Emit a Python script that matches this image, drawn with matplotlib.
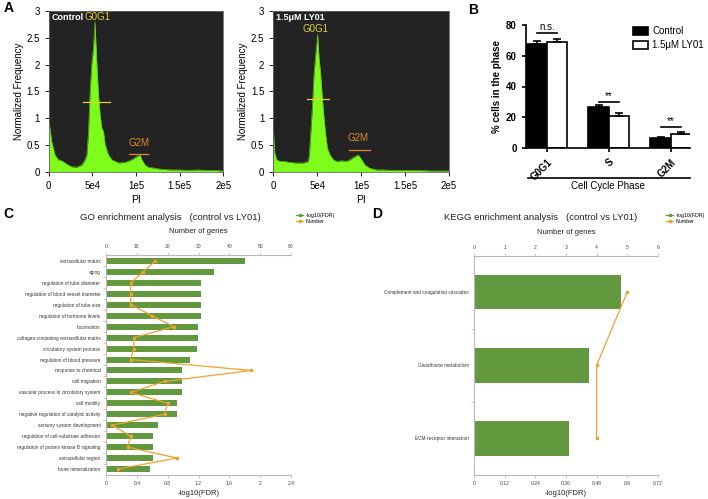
import numpy as np
from matplotlib import pyplot as plt
from matplotlib.lines import Line2D

plt.rcParams['font.family'] = ['Liberation Sans', 'DejaVu Sans']

W, H = 708, 499

# ---- panel A: cell cycle histograms
ctrl_pi = [0, 1500, 3400, 7200, 11000, 15000, 18700, 22500, 26400, 32000, 37800,
           41000, 43600, 45500, 47400, 49300, 51200, 52300, 53100, 54000, 55000,
           57000, 58900, 60800, 62700, 64600, 68400, 72300, 80000, 87600, 95200,
           101000, 104800, 106700, 110500, 114000, 122000, 130000, 140000, 150000,
           160000, 170000, 180000, 190000, 200000]
ctrl_freq = [0.97, 0.8, 0.56, 0.31, 0.22, 0.2, 0.16, 0.12, 0.09, 0.08, 0.12,
             0.2, 0.3, 0.7, 1.5, 2.0, 2.3, 2.6, 2.8, 2.4, 2.05,
             1.43, 1.06, 0.81, 0.75, 0.5, 0.31, 0.22, 0.16, 0.17, 0.22,
             0.28, 0.31, 0.22, 0.12, 0.08, 0.06, 0.04, 0.03, 0.03,
             0.02, 0.03, 0.02, 0.02, 0.01]
ly_pi = [0, 1500, 3800, 7600, 13000, 19000, 26000, 34200, 39900, 41000, 42500,
         44400, 46300, 48200, 49400, 50500, 52000, 53900, 55800, 57700, 59600,
         61500, 64500, 68300, 72100, 78000, 83500, 87300, 93000, 96800, 100600,
         104400, 110000, 117600, 125000, 135000, 150000, 165000, 180000, 200000]
ly_freq = [0.78, 0.35, 0.22, 0.19, 0.19, 0.17, 0.16, 0.16, 0.19, 0.31, 0.69,
           1.19, 1.81, 2.18, 2.37, 2.56, 2.12, 1.81, 1.37, 1.0, 0.69,
           0.44, 0.31, 0.22, 0.19, 0.2, 0.19, 0.22, 0.28, 0.31, 0.22,
           0.12, 0.06, 0.03, 0.03, 0.02, 0.02, 0.02, 0.01, 0.01]

# ---- panel B: % cells per phase
phases = ['G0G1', 'S', 'G2M']
ctrl_pct = [67.5, 26.4, 6.5]
ctrl_sd = [2.0, 1.5, 0.9]
ly_pct = [69.2, 21.0, 9.1]
ly_sd = [1.7, 2.0, 1.1]
sig_labels = ['n.s.', '**', '**']
sig_height = [74.6, 30.1, 13.9]

# ---- panel C: GO enrichment
go_terms = ['extracellular matrix', 'aging', 'regulation of tube diameter',
            'regulation of blood vessel diameter', 'regulation of tube size',
            'regulation of hormone levels', 'locomotion',
            'collagen-containing extracellular matrix', 'circulatory system process',
            'regulation of blood pressure', 'response to chemical', 'cell migration',
            'vascular process in circulatory system', 'cell motility',
            'negative regulation of catalytic activity', 'sensory system development',
            'regulation of cell-substrate adhesion',
            'regulation of protein kinase B signaling', 'extracellular region',
            'bone mineralization']
go_fdr = [1.80, 1.40, 1.23, 1.23, 1.23, 1.23, 1.19, 1.19, 1.18, 1.09,
          0.99, 0.98, 0.98, 0.925, 0.925, 0.68, 0.61, 0.61, 0.61, 0.57]
go_num = [16, 12, 8, 8, 8, 15, 22, 9, 9, 8, 47, 19, 8, 20, 19, 2, 8, 7, 23, 4]

# ---- panel D: KEGG enrichment
kegg_terms = ['Complement and coagulation cascades', 'Glutathione metabolism',
              'ECM-receptor interaction']
kegg_fdr = [0.576, 0.452, 0.372]
kegg_num = [5, 4, 4]

green = '#62993f'
orange = '#f0a22e'
grey = '#b8b8b8'


def rect(l, t, r, b):
    return [l / W, 1 - b / H, (r - l) / W, (b - t) / H]


fig = plt.figure(figsize=(W / 100, H / 100), dpi=100)


def histo(box, x, y, name, g1, g2):
    ax = fig.add_axes(box)
    ax.set_facecolor('#232323')
    ax.fill_between(x, 0, y, color='#7efc1a', lw=0)
    ax.plot(x, y, color='#5cc21a', lw=0.5)
    ax.set_xlim(0, 200000)
    ax.set_ylim(0, 3)
    ax.set_xticks([0, 50000, 100000, 150000, 200000])
    ax.set_xticklabels(['0', '5e4', '1e5', '1.5e5', '2e5'])
    ax.set_yticks([0, 0.5, 1, 1.5, 2, 2.5, 3])
    ax.set_yticklabels(['0', '0.5', '1', '1.5', '2', '2.5', '3'])
    ax.tick_params(labelsize=7, length=3, width=0.6)
    for s in ax.spines.values():
        s.set_color('#666666')
        s.set_linewidth(0.6)
    ax.set_xlabel('PI', fontsize=7.5, labelpad=3)
    ax.set_ylabel('Normalized Frequency', fontsize=7, labelpad=2)
    ax.text(0.015, 0.985, name, transform=ax.transAxes, color='white',
            fontsize=6.5, fontweight='bold', va='top', ha='left')
    # gate markers
    ax.plot([g1[1], g1[2]], [g1[3], g1[3]], color='#e2d13a', lw=0.9)
    ax.text(g1[0], g1[4], 'G0G1', color='#e2d13a', fontsize=7, ha='center', va='center')
    ax.plot([g2[1], g2[2]], [g2[3], g2[3]], color='#e48a2c', lw=0.9)
    ax.text(g2[0], g2[4], 'G2M', color='#e48a2c', fontsize=7, ha='center', va='center')
    return ax


histo(rect(48.7, 11, 223.3, 171.5), ctrl_pi, ctrl_freq, 'Control',
      (56000, 39400, 70300, 1.3, 2.88), (103000, 92200, 113600, 0.33, 0.53))
histo(rect(273.3, 11, 449, 171.5), ly_pi, ly_freq, '1.5\u03bcM LY01',
      (48500, 38000, 63700, 1.35, 2.66), (96800, 86500, 110000, 0.41, 0.62))

# ---- panel B
axb = fig.add_axes(rect(525.7, 25, 690, 148))
xc = np.arange(len(phases))
bw = 0.33
axb.bar(xc - bw / 2, ctrl_pct, bw, color='black', edgecolor='black', lw=1.2)
axb.bar(xc + bw / 2, ly_pct, bw, color='white', edgecolor='black', lw=1.2)
axb.errorbar(xc - bw / 2, ctrl_pct, yerr=[np.zeros(3), ctrl_sd], fmt='none',
             ecolor='black', elinewidth=1.2, capsize=3, capthick=1.2)
axb.errorbar(xc + bw / 2, ly_pct, yerr=[np.zeros(3), ly_sd], fmt='none',
             ecolor='black', elinewidth=1.2, capsize=3, capthick=1.2)
for i in range(3):
    axb.plot([i - bw / 2, i + bw / 2], [sig_height[i], sig_height[i]], color='black', lw=1.2)
    off = 1.0 if sig_labels[i] == 'n.s.' else 0.3
    axb.text(i, sig_height[i] + off, sig_labels[i], ha='center', va='bottom', fontsize=7)
axb.set_xlim(-0.34, 2.31)
axb.set_ylim(0, 80)
axb.set_yticks([0, 20, 40, 60, 80])
axb.set_xticks(xc)
axb.set_xticklabels(phases, rotation=45, ha='right', rotation_mode='anchor',
                    fontweight='bold')
axb.tick_params(labelsize=7, length=3, width=1.2)
for lab in axb.get_yticklabels():
    lab.set_fontweight('bold')
axb.spines['top'].set_visible(False)
axb.spines['right'].set_visible(False)
axb.spines['left'].set_linewidth(1.2)
axb.spines['bottom'].set_linewidth(1.2)
axb.set_ylabel('% cells in the phase', fontsize=7, fontweight='bold', labelpad=3)
axb.plot([0.014, 1.0], [-0.245, -0.245], transform=axb.transAxes, color='black',
         lw=1.2, clip_on=False)
axb.text(0.5, -0.31, 'Cell Cycle Phase', transform=axb.transAxes, ha='center',
         va='center', fontsize=7)
hb = [plt.Rectangle((0, 0), 1, 1, fc='black', ec='black', lw=1.2),
      plt.Rectangle((0, 0), 1, 1, fc='white', ec='black', lw=1.2)]
axb.legend(hb, ['Control', '1.5\u03bcM LY01'], loc='upper left',
           bbox_to_anchor=(0.6, 1.06), frameon=False, fontsize=7,
           handlelength=1.5, handleheight=0.9, labelspacing=0.4, handletextpad=0.5)


# ---- panels C and D
def enrich(box, terms, fdr, num, fmax, fticks, flabels, nmax, nticks):
    ax = fig.add_axes(box)
    n = len(terms)
    y = np.arange(n)
    bh = 0.55 if n > 5 else 0.47
    ax.barh(y, fdr, height=bh, color=green)
    ax.set_ylim(n - 0.45, -0.55) if n > 5 else ax.set_ylim(n - 0.5, -0.5)
    ax.set_xlim(0, fmax)
    ax.set_xticks(fticks)
    ax.set_xticklabels(flabels)
    ax.set_yticks(y)
    ax.set_yticklabels(terms)
    ax.set_yticks(np.arange(n - 1) + 0.5, minor=True)
    ax.tick_params(axis='y', which='major', length=0, labelsize=3.4, pad=4,
                   labelcolor='#333333')
    ax.tick_params(axis='y', which='minor', length=2, width=0.5, color=grey)
    ax.tick_params(axis='x', labelsize=3.6, length=2, width=0.5, color=grey,
                   labelcolor='#444444', pad=2)
    for s in ['top', 'right']:
        ax.spines[s].set_visible(False)
    for s in ['left', 'bottom']:
        ax.spines[s].set_color(grey)
        ax.spines[s].set_linewidth(0.8)
    ax.set_xlabel('-log10(FDR)', fontsize=5.5, labelpad=3, color='#222222')
    ax2 = ax.twiny()
    ax2.plot(num, y, color=orange, lw=0.9, marker='s', ms=1.6)
    ax2.set_xlim(0, nmax)
    ax2.set_xticks(nticks)
    ax2.tick_params(axis='x', labelsize=3.6, length=2, width=0.5, color=grey,
                    labelcolor='#444444', pad=2)
    for s in ['bottom', 'right', 'left']:
        ax2.spines[s].set_visible(False)
    ax2.spines['top'].set_color(grey)
    ax2.spines['top'].set_linewidth(0.8)
    ax2.set_xlabel('Number of genes', fontsize=5.5, labelpad=8, color='#222222')
    return ax


enrich(rect(106, 255, 291, 475), go_terms, go_fdr, go_num, 2.4,
       [0, 0.4, 0.8, 1.2, 1.6, 2.0, 2.4], ['0', '0.4', '0.8', '1.2', '1.6', '2', '2.4'],
       60, [0, 10, 20, 30, 40, 50, 60])
enrich(rect(474.3, 255.7, 657.7, 475), kegg_terms, kegg_fdr, kegg_num, 0.72,
       [0, 0.12, 0.24, 0.36, 0.48, 0.6, 0.72],
       ['0', '0.12', '0.24', '0.36', '0.48', '0.6', '0.72'],
       6, [0, 1, 2, 3, 4, 5, 6])

fig.text(170 / W, 1 - 217 / H, 'GO enrichment analysis   (control vs LY01)',
         fontsize=6.8, ha='center', va='center', color='#222222')
fig.text(541 / W, 1 - 217 / H, 'KEGG enrichment analysis   (control vs LY01)',
         fontsize=6.8, ha='center', va='center', color='#222222')

lh = [Line2D([0], [0], color=green, lw=0.9, marker='s', ms=1.8),
      Line2D([0], [0], color=orange, lw=0.9, marker='s', ms=1.8)]
for xl in [296, 666]:
    fig.legend(lh, ['-log10(FDR)', 'Number'], loc='upper left',
               bbox_to_anchor=(xl / W, 1 - 213 / H), frameon=False, fontsize=3.8,
               handlelength=1.4, labelspacing=0.1, handletextpad=0.4,
               borderpad=0, borderaxespad=0)

# panel letters
for lt, px, py in [('A', 9, 8), ('B', 473, 10), ('C', 8, 214), ('D', 377, 214)]:
    fig.text(px / W, 1 - py / H, lt, fontsize=10, fontweight='bold',
             ha='center', va='center')

fig.savefig('out.png', dpi=100)
